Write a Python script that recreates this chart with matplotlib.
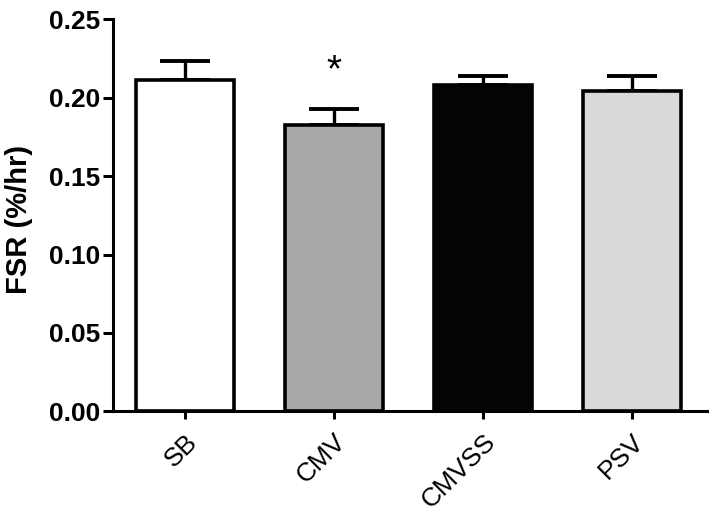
import matplotlib
matplotlib.use('Agg')
import matplotlib.pyplot as plt

# Bar values and SEM.
groups = ['SB', 'CMV', 'CMVSS', 'PSV']
fsr = [0.211, 0.1825, 0.208, 0.204]
sem = [0.0125, 0.010, 0.006, 0.010]
colours = ['#ffffff', '#a9a9a9', '#050505', '#d9d9d9']
yticks = [0.00, 0.05, 0.10, 0.15, 0.20, 0.25]

plt.rcParams['font.family'] = ['Liberation Sans', 'DejaVu Sans']

fig = plt.figure(figsize=(7.14, 5.15), dpi=100)
ax = fig.add_axes([0.158, 0.201, 0.832, 0.762])

x = list(range(len(groups)))
ax.errorbar(x, fsr, yerr=[[0] * len(sem), sem], fmt='none', ecolor='black',
            elinewidth=2.4, capsize=18, capthick=2.8, zorder=1)
ax.bar(x, fsr, width=0.66, color=colours, edgecolor='black', linewidth=2.6, zorder=2)

# significance marker over CMV
ax.text(1, fsr[1] + sem[1] + 0.024, '*', ha='center', va='center',
        fontsize=28, clip_on=False)

ax.set_xlim(-0.483, 3.503)
ax.set_ylim(0, 0.25)
ax.set_yticks(yticks)
ax.set_yticklabels(['%.2f' % v for v in yticks], fontweight='bold', fontsize=19)
ax.set_xticks(x)
ax.set_xticklabels(groups, rotation=45, ha='right', rotation_mode='anchor',
                   fontsize=19, fontweight='medium')
ax.set_ylabel('FSR (%/hr)', fontsize=21, fontweight='bold')
ax.yaxis.set_label_coords(-0.135, 0.49)

for side in ['top', 'right']:
    ax.spines[side].set_visible(False)
for side in ['left', 'bottom']:
    ax.spines[side].set_linewidth(2.2)
ax.tick_params(axis='both', width=2.2, length=7, direction='out')
ax.tick_params(axis='x', length=6, pad=7)
ax.tick_params(axis='y', pad=2)

fig.savefig('out.png', dpi=100)
